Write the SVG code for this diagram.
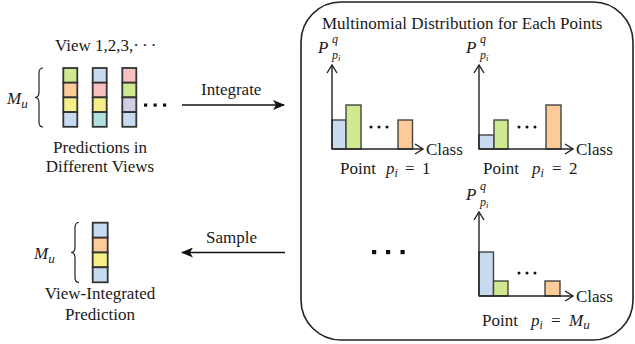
<svg xmlns="http://www.w3.org/2000/svg" width="635" height="344" viewBox="0 0 635 344">
  <style>
    text { font-family: "Liberation Serif", "Times New Roman", serif; font-size: 17px; fill: #1a1a1a; }
    .it { font-style: italic; }
    .sup { font-style: italic; font-size: 12px; }
    .cell { stroke: #333; stroke-width: 1.8; }
    .bar { stroke: #444; stroke-width: 1.4; }
    .axis { fill: none; stroke: #222; stroke-width: 1.4; }
    .flow { fill: none; stroke: #111; stroke-width: 1.5; }
    .brace { fill: none; stroke: #222; stroke-width: 1.2; }
    .dot { fill: #111; }
    .blue { fill: #c8daf0; }
    .green { fill: #d0e890; }
    .orange { fill: #fccb98; }
    .yellow { fill: #f4ef86; }
    .pink { fill: #f8c0c0; }
    .teal { fill: #b0e0e0; }
    .lav { fill: #d4cce4; }
  </style>
  <defs>
    <marker id="stealth" viewBox="0 0 12 10" refX="11" refY="5" markerWidth="12" markerHeight="10" markerUnits="userSpaceOnUse" orient="auto">
      <path d="M0,0 L12,5 L0,10 L3,5 Z" fill="#111"/>
    </marker>
    <marker id="open" viewBox="0 0 10 12" refX="9" refY="6" markerWidth="10" markerHeight="12" markerUnits="userSpaceOnUse" orient="auto">
      <path d="M1,1 L9,6 L1,11" fill="none" stroke="#222" stroke-width="1.4"/>
    </marker>
  </defs>

  <!-- per-view predictions -->
  <g id="views">
    <text x="55" y="50.5">View 1,2,3,<tspan letter-spacing="3">···</tspan></text>
    <text class="it" x="7" y="104" font-size="18">M<tspan font-size="13" dy="4">u</tspan></text>
    <path class="brace" d="M43,68 Q39,68 39,73 L39,92 Q39,97.5 35,97.5 Q39,97.5 39,103 L39,122 Q39,127 43,127"/>
    <rect class="cell green" x="63.3" y="68" width="14" height="14.7"/>
    <rect class="cell orange" x="63.3" y="82.7" width="14" height="14.7"/>
    <rect class="cell yellow" x="63.3" y="97.4" width="14" height="14.7"/>
    <rect class="cell blue" x="63.3" y="112.1" width="14" height="14.7"/>
    <rect class="cell blue" x="92.7" y="68" width="14" height="14.7"/>
    <rect class="cell pink" x="92.7" y="82.7" width="14" height="14.7"/>
    <rect class="cell yellow" x="92.7" y="97.4" width="14" height="14.7"/>
    <rect class="cell teal" x="92.7" y="112.1" width="14" height="14.7"/>
    <rect class="cell pink" x="122.3" y="68" width="14" height="14.7"/>
    <rect class="cell green" x="122.3" y="82.7" width="14" height="14.7"/>
    <rect class="cell lav" x="122.3" y="97.4" width="14" height="14.7"/>
    <rect class="cell blue" x="122.3" y="112.1" width="14" height="14.7"/>
    <rect class="dot" x="144" y="103.5" width="3.2" height="3.2"/>
    <rect class="dot" x="153.5" y="103.5" width="3.2" height="3.2"/>
    <rect class="dot" x="163" y="103.5" width="3.2" height="3.2"/>
    <text x="100" y="153" text-anchor="middle">Predictions in</text>
    <text x="100" y="171.5" text-anchor="middle">Different Views</text>
  </g>

  <!-- integrated prediction -->
  <g id="integrated">
    <text class="it" x="34" y="259" font-size="18">M<tspan font-size="13" dy="4">u</tspan></text>
    <path class="brace" d="M79,222.5 Q75,222.5 75,227.5 L75,247 Q75,252.5 71,252.5 Q75,252.5 75,258 L75,277.5 Q75,282.5 79,282.5"/>
    <rect class="cell blue" x="92.7" y="222.7" width="15" height="15"/>
    <rect class="cell orange" x="92.7" y="237.7" width="15" height="14.8"/>
    <rect class="cell yellow" x="92.7" y="252.5" width="15" height="14.8"/>
    <rect class="cell blue" x="92.7" y="267.3" width="15" height="15"/>
    <text x="100" y="299" text-anchor="middle">View-Integrated</text>
    <text x="100" y="320" text-anchor="middle">Prediction</text>
  </g>

  <!-- multinomial distributions panel -->
  <g id="distributions">
    <rect x="301" y="2" width="332" height="338" rx="40" ry="40" fill="none" stroke="#222" stroke-width="1.6"/>
    <text x="322" y="29" font-size="17.5">Multinomial Distribution for Each Points</text>

    <!-- point 1 -->
    <g id="chart-1">
      <text class="it" x="318" y="53" font-size="19">P</text>
      <text class="sup" x="332" y="43">q</text>
      <text class="sup" x="332" y="59">p<tspan font-size="9" dy="2">i</tspan></text>
      <rect class="bar blue" x="332" y="120" width="14" height="29"/>
      <rect class="bar green" x="346" y="105" width="15" height="44"/>
      <rect class="bar orange" x="398" y="120" width="14.5" height="29"/>
      <path class="axis" d="M332,149 L332,65" marker-end="url(#open)"/>
      <path class="axis" d="M332,149 L423,149" marker-end="url(#open)"/>
      <circle class="dot" cx="371" cy="127" r="1.5"/>
      <circle class="dot" cx="379" cy="127" r="1.5"/>
      <circle class="dot" cx="387" cy="127" r="1.5"/>
      <text x="426" y="155">Class</text>
      <text x="340" y="174">Point</text>
      <text class="it" x="386" y="174">p<tspan font-size="12" dy="3">i</tspan></text>
      <text x="405" y="174">=</text>
      <text x="422" y="174">1</text>
    </g>

    <!-- point 2 -->
    <g id="chart-2">
      <text class="it" x="466" y="53" font-size="19">P</text>
      <text class="sup" x="480" y="43">q</text>
      <text class="sup" x="480" y="59">p<tspan font-size="9" dy="2">i</tspan></text>
      <rect class="bar blue" x="479" y="135" width="15" height="14"/>
      <rect class="bar green" x="494" y="120" width="14" height="29"/>
      <rect class="bar orange" x="546" y="105" width="15" height="44"/>
      <path class="axis" d="M479,149 L479,65" marker-end="url(#open)"/>
      <path class="axis" d="M479,149 L573,149" marker-end="url(#open)"/>
      <circle class="dot" cx="519" cy="127" r="1.5"/>
      <circle class="dot" cx="527" cy="127" r="1.5"/>
      <circle class="dot" cx="535" cy="127" r="1.5"/>
      <text x="576" y="155">Class</text>
      <text x="483" y="174">Point</text>
      <text class="it" x="532" y="174">p<tspan font-size="12" dy="3">i</tspan></text>
      <text x="552" y="174">=</text>
      <text x="569" y="174">2</text>
    </g>

    <!-- intermediate points -->
    <rect class="dot" x="372" y="250" width="4.2" height="4.2"/>
    <rect class="dot" x="386" y="250" width="4.2" height="4.2"/>
    <rect class="dot" x="400.5" y="250" width="4.2" height="4.2"/>

    <!-- point M_u -->
    <g id="chart-m">
      <text class="it" x="466" y="200" font-size="19">P</text>
      <text class="sup" x="480" y="190">q</text>
      <text class="sup" x="480" y="206">p<tspan font-size="9" dy="2">i</tspan></text>
      <rect class="bar blue" x="479" y="252" width="14.5" height="44"/>
      <rect class="bar green" x="493.5" y="281" width="14.5" height="15"/>
      <rect class="bar orange" x="545" y="281" width="15" height="15"/>
      <path class="axis" d="M479,296 L479,212" marker-end="url(#open)"/>
      <path class="axis" d="M479,296 L573,296" marker-end="url(#open)"/>
      <circle class="dot" cx="519" cy="273" r="1.5"/>
      <circle class="dot" cx="527" cy="273" r="1.5"/>
      <circle class="dot" cx="535" cy="273" r="1.5"/>
      <text x="576" y="302">Class</text>
      <text x="482" y="326">Point</text>
      <text class="it" x="531" y="326">p<tspan font-size="12" dy="3">i</tspan></text>
      <text x="551" y="326">=</text>
      <text class="it" x="569" y="326" font-size="18">M<tspan font-size="13" dy="3">u</tspan></text>
    </g>
  </g>

  <!-- connectors -->
  <g id="connectors">
    <path class="flow" d="M182,105 L284,105" marker-end="url(#stealth)"/>
    <text x="201" y="95">Integrate</text>
    <path class="flow" d="M285,252.5 L182,252.5" marker-end="url(#stealth)"/>
    <text x="206" y="243">Sample</text>
  </g>
</svg>
